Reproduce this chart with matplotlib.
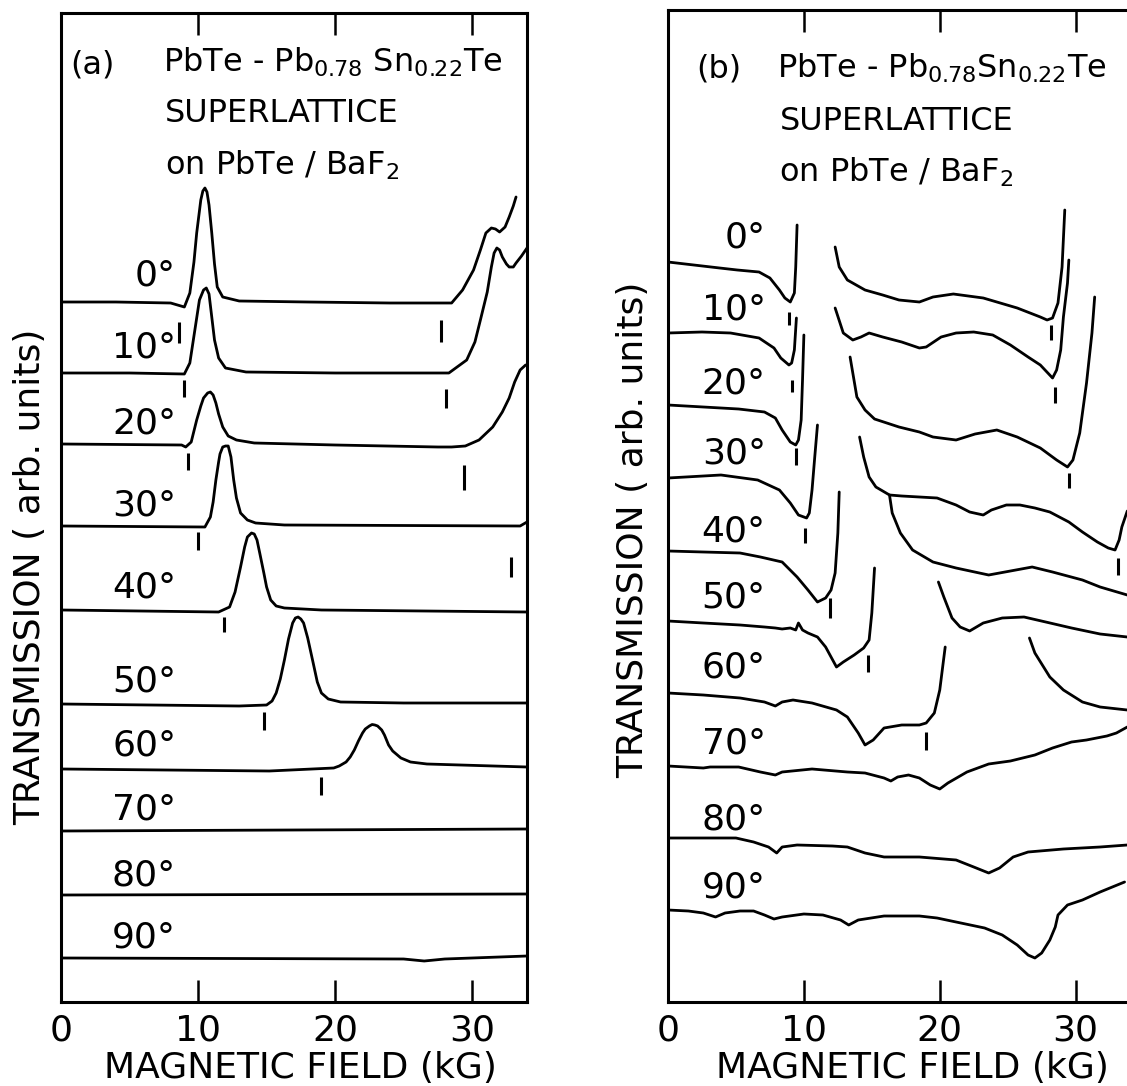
import numpy as np
import matplotlib
matplotlib.use("Agg")
import matplotlib.pyplot as plt

nan = np.nan
plt.rcParams["font.family"] = ["DejaVu Sans"]
plt.rcParams["mathtext.default"] = "regular"

# ---------- data ----------
ANGLES = [0, 10, 20, 30, 40, 50, 60, 70, 80, 90]
TICKS = [0, 10, 20, 30]
TICK_LABELS = ["0", "10", "20", "30"]

# panel (a): field (kG) / transmission (arb. units)
a00_B = [0, 4, 8.0, 9.0, 9.4, 9.7, 9.9, 10.2, 10.35, 10.5, 10.65, 10.8, 11.0, 11.2, 11.4, 11.8, 13.0, 18, 24,
         28.5, 29.3, 30.1, 30.6, 31.0, 31.4, 31.7, 32.0, 32.4, 32.7, 33.0, 33.2]
a00_T = [70.0, 70.0, 69.9, 69.5, 70.9, 74.0, 76.9, 80.2, 81.1, 81.4, 81.0, 79.7, 76.9, 73.8, 71.5, 70.5, 70.1,
         70.0, 69.9, 69.9, 71.2, 73.2, 75.2, 76.9, 77.4, 77.3, 77.0, 77.5, 78.5, 79.6, 80.5]
a10_B = [0, 5, 9.0, 9.4, 9.8, 10.1, 10.4, 10.6, 10.8, 11.0, 11.2, 11.5, 12.0, 13.5, 20, 28.3, 29.6, 30.2, 30.6,
         31.1, 31.4, 31.6, 31.8, 32.0, 32.2, 32.5, 32.7, 33.0, 33.2, 33.6, 34.0]
a10_T = [62.9, 62.9, 62.8, 63.9, 67.5, 70.2, 71.2, 71.4, 70.8, 68.5, 66.2, 64.4, 63.4, 63.0, 62.9, 62.9, 64.2,
         66.0, 68.2, 71.0, 73.5, 74.9, 75.4, 75.2, 74.5, 73.8, 73.5, 73.5, 73.9, 74.6, 75.4]
a20_B = [0, 8.8, 9.1, 9.5, 9.9, 10.2, 10.4, 10.7, 10.9, 11.1, 11.3, 11.5, 11.8, 12.2, 12.8, 14.1, 20, 27.5,
         28.5, 29.5, 30.5, 31.5, 32.2, 32.7, 33.1, 33.5, 33.9]
a20_T = [55.8, 55.7, 55.5, 56.0, 58.2, 59.6, 60.4, 60.9, 61.0, 60.7, 59.9, 58.8, 57.5, 56.6, 56.2, 55.9, 55.7,
         55.5, 55.5, 55.6, 56.2, 57.5, 59.0, 60.4, 62.0, 63.2, 63.7]
a30_B = [0, 10.5, 10.9, 11.1, 11.3, 11.5, 11.6, 11.8, 12.0, 12.2, 12.4, 12.6, 12.8, 13.1, 13.6, 14.2, 16.3,
         33.5, 34.0]
a30_T = [47.6, 47.5, 48.5, 50.0, 52.2, 54.0, 54.8, 55.5, 55.6, 55.6, 54.5, 52.2, 50.4, 48.9, 48.2, 47.9, 47.7,
         47.6, 48.0]
a40_B = [0, 11.5, 12.3, 12.7, 13.1, 13.4, 13.6, 13.9, 14.1, 14.3, 14.5, 14.8, 15.0, 15.3, 15.7, 16.3, 19, 34]
a40_T = [39.2, 39.0, 39.5, 41.0, 43.5, 45.5, 46.5, 46.9, 46.8, 46.2, 44.9, 42.9, 41.5, 40.2, 39.6, 39.4, 39.2,
         39.0]
a50_B = [0, 13, 15.0, 15.4, 15.7, 16.0, 16.3, 16.6, 16.9, 17.1, 17.3, 17.5, 17.7, 18.0, 18.4, 18.7, 19.0,
         19.5, 20.4, 25, 34]
a50_T = [29.8, 29.6, 29.7, 30.1, 30.9, 32.3, 34.2, 36.3, 37.9, 38.4, 38.5, 38.3, 37.9, 36.4, 33.9, 32.0, 30.9,
         30.3, 30.0, 29.9, 29.9]
a60_B = [0, 15.2, 19.9, 20.3, 20.8, 21.1, 21.4, 21.7, 22.0, 22.2, 22.5, 22.7, 22.9, 23.1, 23.4, 23.6, 23.9,
         24.2, 24.8, 25.5, 26.7, 34]
a60_T = [23.3, 23.1, 23.4, 23.6, 24.0, 24.5, 25.2, 26.1, 26.9, 27.3, 27.6, 27.75, 27.7, 27.6, 27.2, 26.7, 25.7,
         25.1, 24.4, 24.0, 23.8, 23.5]
a70_B = [0, 34]
a70_T = [17.1, 17.3]
a80_B = [0, 34]
a80_T = [10.7, 10.8]
a90_B = [0, 25, 26.5, 28, 34]
a90_T = [4.4, 4.3, 4.1, 4.3, 4.6]

# resonance position markers, panel (a)
a_mark_B = [8.6, 27.7, 9.0, 28.1, 9.3, 29.4, 10.0, 32.8, 11.9, 14.8, 19.0]
a_mark_lo = [65.9, 66.0, 60.5, 59.4, 53.2, 51.2, 45.2, 42.5, 37.0, 27.2, 20.7]
a_mark_hi = [68.0, 68.2, 62.2, 61.3, 54.9, 53.7, 47.0, 44.5, 38.5, 29.0, 22.5]

# panel (b), nan = gap in the recorded trace
b00_B = [0, 1.9, 3.8, 5.1, 6.7, 7.5, 8.2, 8.6, 9.0, 9.3, 9.4, 9.5, nan, 12.3, 12.6, 13.2, 14.5, 15.8, 17.0,
         18.5, 19.5, 21.0, 23.2, 25.7, 27.4, 27.9, 28.3, 28.7, 29.0, 29.2]
b00_T = [74.0, 73.7, 73.4, 73.2, 73.0, 72.4, 71.2, 70.4, 70.0, 70.9, 73.5, 77.7, nan, 75.5, 73.5, 72.2, 71.2,
         70.7, 70.2, 70.0, 70.5, 70.8, 70.4, 69.4, 68.5, 68.2, 68.4, 69.9, 73.5, 79.2]
b10_B = [0, 2.5, 4.6, 6.7, 7.8, 8.3, 8.9, 9.1, 9.3, 9.45, nan, 12.3, 12.9, 13.6, 14.2, 14.8, 15.8, 17.2, 18.5,
         19.0, 20.1, 21.2, 22.5, 23.9, 25.2, 26.5, 27.4, 28.3, 28.6, 28.9, 29.1, 29.4, 29.5]
b10_T = [66.9, 67.0, 66.9, 66.4, 65.4, 64.4, 63.7, 63.9, 65.2, 68.4, nan, 69.4, 66.9, 66.2, 66.5, 66.9, 66.5,
         66.0, 65.4, 65.5, 66.5, 66.9, 67.0, 66.7, 65.7, 64.5, 63.7, 62.4, 63.2, 65.2, 68.5, 71.9, 74.2]
b20_B = [0, 2.6, 5.2, 7.1, 7.9, 8.4, 9.0, 9.4, 9.6, 9.8, 9.9, 10.0, nan, 13.4, 13.9, 14.5, 15.2, 17.0, 18.5,
         19.5, 21.2, 22.6, 24.2, 25.7, 27.4, 28.6, 29.4, 29.8, 30.3, 30.8, 31.2, 31.4]
b20_T = [59.7, 59.5, 59.3, 59.0, 58.4, 57.2, 56.0, 55.7, 56.2, 58.2, 62.2, 66.7, nan, 64.5, 60.5, 59.2, 58.3,
         57.5, 57.0, 56.5, 56.2, 56.8, 57.2, 56.5, 55.4, 54.2, 53.5, 54.2, 56.9, 61.9, 66.9, 70.5]
b30_B = [0, 2.6, 3.9, 6.6, 8.2, 9.0, 9.6, 10.2, 10.4, 10.6, 10.8, 11.0, nan, 14.1, 14.4, 14.8, 15.3, 16.3,
         17.2, 18.5, 19.8, 21.2, 22.2, 23.2, 23.8, 24.9, 25.9, 27.0, 28.1, 29.5, 30.5, 31.6, 32.4, 32.9, 33.2,
         33.4, 33.8]
b30_T = [52.4, 52.6, 52.7, 52.2, 51.2, 49.9, 48.7, 48.4, 48.9, 51.2, 54.5, 57.7, nan, 56.5, 54.5, 52.5, 51.5,
         50.7, 50.6, 50.5, 50.4, 49.7, 49.0, 48.7, 49.2, 49.7, 49.7, 49.4, 49.0, 48.0, 47.0, 46.0, 45.4, 45.2,
         46.2, 47.5, 49.1]
b40_B = [0, 2.6, 5.3, 6.8, 8.4, 9.5, 10.3, 11.0, 11.6, 12.0, 12.3, 12.5, 12.6, nan, 16.3, 16.5, 17.1, 18.0,
         19.5, 21.2, 23.6, 25.2, 26.8, 28.3, 30.5, 31.8, 33.8]
b40_T = [45.1, 45.0, 44.9, 44.5, 44.0, 42.5, 41.2, 40.0, 40.4, 41.2, 42.9, 46.9, 51.0, nan, 50.7, 48.9, 46.9,
         45.2, 44.0, 43.4, 42.7, 43.1, 43.5, 43.0, 42.2, 41.5, 40.7]
b50_B = [0, 2.6, 5.3, 7.1, 7.9, 8.4, 9.0, 9.4, 9.6, 9.9, 10.3, 11.0, 11.6, 12.0, 12.4, 12.9, 13.7, 14.4, 14.8,
         15.0, 15.2, nan, 19.9, 20.3, 20.9, 21.5, 22.2, 23.2, 24.6, 26.2, 27.8, 29.7, 31.8, 33.8]
b50_T = [38.1, 37.9, 37.7, 37.5, 37.4, 37.3, 37.4, 37.2, 37.9, 37.2, 36.9, 36.5, 35.5, 34.5, 33.5, 34.0, 34.7,
         35.4, 36.2, 38.9, 43.4, nan, 42.0, 40.5, 38.4, 37.5, 37.1, 37.9, 38.4, 38.5, 38.0, 37.4, 36.8, 36.5]
b60_B = [0, 2.6, 5.3, 7.1, 7.9, 8.4, 9.2, 10.6, 12.4, 13.2, 14.0, 14.5, 15.1, 15.9, 17.2, 18.5, 19.0, 19.6,
         20.0, 20.25, 20.4, nan, 26.6, 27.0, 28.1, 29.1, 30.5, 31.8, 33.8]
b60_T = [30.9, 30.7, 30.4, 30.0, 29.6, 30.0, 30.2, 29.9, 29.2, 28.5, 26.9, 25.7, 26.2, 27.4, 27.7, 27.7, 27.9,
         28.9, 31.2, 33.9, 35.5, nan, 36.4, 34.9, 32.5, 31.2, 30.0, 29.5, 29.2]
b70_B = [0, 2.6, 3.1, 5.2, 6.8, 7.9, 8.4, 10.6, 13.2, 14.5, 15.9, 16.4, 16.9, 17.7, 18.5, 19.3, 20.0, 20.6,
         22.0, 23.6, 25.2, 27.0, 28.3, 29.7, 30.8, 32.3, 33.0, 33.8]
b70_T = [23.6, 23.4, 23.5, 23.5, 23.0, 22.7, 23.0, 23.3, 23.0, 22.9, 22.4, 22.1, 22.5, 22.7, 22.4, 21.7, 21.3,
         21.9, 23.0, 23.8, 24.1, 24.7, 25.4, 26.0, 26.2, 26.6, 26.9, 27.5]
b80_B = [0, 5.0, 6.3, 7.4, 8.0, 8.4, 9.5, 12.1, 13.2, 14.5, 15.9, 18.5, 21.2, 22.5, 23.6, 24.4, 25.4, 26.5,
         29.1, 31.8, 33.8]
b80_T = [16.4, 16.4, 16.0, 15.5, 14.9, 15.5, 15.7, 15.6, 15.5, 14.9, 14.5, 14.5, 14.2, 13.5, 12.9, 13.4, 14.5,
         15.0, 15.3, 15.5, 15.7]
b90_B = [0, 1.5, 2.6, 3.5, 4.2, 5.3, 6.3, 7.1, 7.8, 8.4, 10.0, 11.4, 12.7, 13.3, 14.0, 15.9, 18.5, 19.8, 21.2,
         23.3, 24.6, 25.7, 26.5, 27.0, 27.5, 28.1, 28.5, 28.7, 29.4, 30.5, 31.8, 33.6]
b90_T = [9.2, 9.1, 8.9, 8.5, 8.9, 9.1, 9.1, 8.7, 8.3, 8.5, 8.8, 8.7, 8.2, 7.7, 8.2, 8.6, 8.6, 8.4, 8.0, 7.4,
         6.7, 5.7, 4.7, 4.4, 4.9, 6.2, 7.5, 8.7, 9.7, 10.2, 11.0, 12.0]

b_mark_B = [8.9, 28.2, 9.1, 28.5, 9.4, 29.5, 10.1, 33.1, 11.9, 14.7, 19.0]
b_mark_lo = [67.7, 66.2, 61.0, 59.9, 53.7, 51.4, 45.9, 42.7, 38.4, 33.0, 25.2]
b_mark_hi = [69.0, 67.7, 62.2, 61.5, 55.4, 52.9, 47.4, 44.4, 40.4, 34.7, 27.0]

# angle label anchor (right edge x, baseline y)
a_label_x = 8.4
a_label_y = [71.7, 64.4, 56.9, 48.7, 40.5, 31.0, 24.7, 18.2, 11.7, 5.4]
b_label_x = 7.2
b_label_y = [75.5, 68.2, 60.9, 53.9, 46.0, 39.5, 32.4, 24.9, 17.2, 10.4]

A_TRACES = [(a00_B, a00_T), (a10_B, a10_T), (a20_B, a20_T), (a30_B, a30_T), (a40_B, a40_T),
            (a50_B, a50_T), (a60_B, a60_T), (a70_B, a70_T), (a80_B, a80_T), (a90_B, a90_T)]
B_TRACES = [(b00_B, b00_T), (b10_B, b10_T), (b20_B, b20_T), (b30_B, b30_T), (b40_B, b40_T),
            (b50_B, b50_T), (b60_B, b60_T), (b70_B, b70_T), (b80_B, b80_T), (b90_B, b90_T)]

TITLE_A = "PbTe - Pb$_{0.78}$ Sn$_{0.22}$Te"
TITLE_B = "PbTe - Pb$_{0.78}$Sn$_{0.22}$Te"
YLABEL = "TRANSMISSION ( arb. units)"
XLABEL = "MAGNETIC FIELD (kG)"

# ---------- figure ----------
W, H = 1127, 1086
fig = plt.figure(figsize=(W / 100, H / 100), dpi=100)
fig.patch.set_facecolor("white")

def px_axes(left, right, top, bottom):
    return fig.add_axes([left / W, 1 - bottom / H, (right - left) / W, (bottom - top) / H])

def style(ax, ymax):
    ax.set_xlim(0, 34); ax.set_ylim(0, ymax)
    ax.set_xticks(TICKS); ax.set_xticklabels(TICK_LABELS)
    ax.set_yticks([])
    ax.tick_params(axis="x", direction="in", length=16, width=1.8, top=True, pad=8, labelsize=26)
    for s in ax.spines.values(): s.set_linewidth(2.2)

def draw(ax, traces, mB, mlo, mhi, lx, ly):
    for B, T in traces:
        ax.plot(B, T, color="black", lw=2.0, solid_joinstyle="round", solid_capstyle="round")
    ax.vlines(mB, mlo, mhi, color="black", lw=2.2)
    for ang, y in zip(ANGLES, ly):
        ax.text(lx, y, f"{ang}°", ha="right", va="baseline", fontsize=26)

ax_a = px_axes(61, 527, 13, 1002)
style(ax_a, 98.9)
draw(ax_a, A_TRACES, a_mark_B, a_mark_lo, a_mark_hi, a_label_x, a_label_y)
ax_a.text(0.7, 92.9, "(a)", fontsize=23, va="baseline")
ax_a.text(7.45, 93.0, TITLE_A, fontsize=23, va="baseline")
ax_a.text(7.6, 88.0, "SUPERLATTICE", fontsize=23, va="baseline")
ax_a.text(7.6, 82.7, "on PbTe / BaF$_2$", fontsize=23, va="baseline")

ax_b = px_axes(668, 1130, 10, 1002)
style(ax_b, 99.2)
draw(ax_b, B_TRACES, b_mark_B, b_mark_lo, b_mark_hi, b_label_x, b_label_y)
ax_b.text(2.1, 92.5, "(b)", fontsize=23, va="baseline")
ax_b.text(8.0, 92.4, TITLE_B, fontsize=23, va="baseline")
ax_b.text(8.2, 87.2, "SUPERLATTICE", fontsize=23, va="baseline")
ax_b.text(8.2, 82.0, "on PbTe / BaF$_2$", fontsize=23, va="baseline")

fig.text(30 / W, 1 - 577 / H, YLABEL, rotation=90, ha="center", va="center", fontsize=26)
fig.text(633 / W, 1 - 530 / H, YLABEL, rotation=90, ha="center", va="center", fontsize=26)
fig.text(300 / W, 1 - 1068 / H, XLABEL, ha="center", va="center", fontsize=26)
fig.text(912 / W, 1 - 1068 / H, XLABEL, ha="center", va="center", fontsize=26)

fig.savefig("out.png", dpi=100)
